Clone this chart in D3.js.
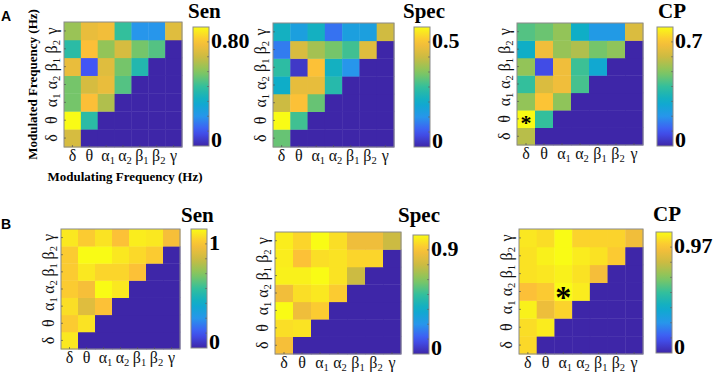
<!DOCTYPE html>
<html><head><meta charset="utf-8">
<script src="https://cdn.jsdelivr.net/npm/d3@7"></script>
<style>body{margin:0;background:#fff}svg{display:block}</style>
</head><body>
<svg id="c" width="720" height="378"></svg>
<script>
// Frequency band labels (base, subscript)
const bands = [["δ",""],["θ",""],["α","1"],["α","2"],["β","1"],["β","2"],["γ",""]];

// Triangular matrices: row r (0 = δ bottom ... 6 = γ top), columns δ..(band r)
const senA = [
  [0.62],
  [0.80, 0.38],
  [0.48, 0.70, 0.56],
  [0.48, 0.62, 0.66, 0.44],
  [0.66, 0.10, 0.64, 0.48, 0.36],
  [0.38, 0.70, 0.52, 0.62, 0.48, 0.44],
  [0.53, 0.66, 0.68, 0.40, 0.20, 0.20, 0.64]
];
const specA = [
  [0.29],
  [0.50, 0.26],
  [0.375, 0.44, 0.29],
  [0.19, 0.41, 0.41, 0.23],
  [0.24, 0.025, 0.44, 0.20, 0.125],
  [0.10, 0.39, 0.34, 0.30, 0.26, 0.40],
  [0.20, 0.15, 0.20, 0.09, 0.15, 0.15, 0.38]
];
const cpA = [
  [0.50],
  [0.70, 0.35],
  [0.455, 0.62, 0.45],
  [0.35, 0.55, 0.59, 0.37],
  [0.455, 0.07, 0.59, 0.36, 0.245],
  [0.27, 0.59, 0.46, 0.49, 0.42, 0.45],
  [0.385, 0.41, 0.455, 0.27, 0.19, 0.19, 0.55]
];
const senB = [
  [0.96],
  [0.90, 0.95],
  [0.94, 0.80, 0.88],
  [0.90, 0.86, 1.00, 0.96],
  [0.90, 0.96, 0.92, 0.92, 0.88],
  [0.90, 1.00, 1.00, 0.96, 0.93, 0.90],
  [0.96, 0.90, 0.95, 0.88, 0.97, 0.96, 0.86]
];
const specB = [
  [0.774],
  [0.846, 0.855],
  [0.90, 0.756, 0.81],
  [0.765, 0.846, 0.864, 0.81],
  [0.882, 0.882, 0.90, 0.855, 0.675],
  [0.873, 0.792, 0.846, 0.855, 0.828, 0.828],
  [0.873, 0.828, 0.90, 0.846, 0.756, 0.756, 0.675]
];
const cpB = [
  [0.90],
  [0.91, 0.94],
  [0.95, 0.81, 0.89],
  [0.85, 0.87, 0.97, 0.94],
  [0.92, 0.93, 0.95, 0.92, 0.83],
  [0.92, 0.95, 0.97, 0.94, 0.92, 0.87],
  [0.93, 0.91, 0.97, 0.89, 0.89, 0.89, 0.82]
];

const titles = ["Sen","Spec","CP","Sen","Spec","CP"];
const matrices = [senA, specA, cpA, senB, specB, cpB];
const cbMax = [0.80, 0.5, 0.7, 1, 0.9, 0.97];
const cbTopLabels = ["0.80","0.5","0.7","1","0.9","0.97"];
// significant cell (col, row) per panel, or null
const starCells = [null, null, [0,1], null, null, [2,3]];

// layout (pixel boxes)
const hmBoxes = [[64,22,182,147],[273,23,394,147],[517,23,643,145],[61,229,180,349],[275,232,401,354],[519,229,643,354]];
const cbBoxes = [[193,27,209,146],[414,27,430,147],[657,27,673,146],[191,229,207,348],[413,235,429,354],[656,232,672,353]];
const titlePos = [[188,18],[403,18],[658,18],[181,222],[398,222],[653,221]];
const starSize = [0,0,22,0,0,32];

// MATLAB parula key colours
const parula = ["#3e26a8","#4255f5","#2796eb","#0cacca","#33bf9c","#85c65e","#ccbb42","#fcbf38","#f9fb15"];
const parulaScale = d3.scaleLinear().domain(d3.range(parula.length).map(i=>i/(parula.length-1))).range(parula).interpolate(d3.interpolateRgb).clamp(true);

const svg = d3.select("#c");
const defs = svg.append("defs");
const grad = defs.append("linearGradient").attr("id","parula").attr("x1",0).attr("y1",1).attr("x2",0).attr("y2",0);
d3.range(0,1.0001,0.05).forEach(t=>grad.append("stop").attr("offset",t).attr("stop-color",parulaScale(t)));

const serif = "'Liberation Serif','Times New Roman',serif";

function bandText(sel, b, fs){
  sel.append("tspan").text(b[0]);
  if(b[1]) sel.append("tspan").attr("font-size", fs*0.66).attr("dy", fs*0.2).text(b[1]);
}

matrices.forEach((mat, p) => {
  const [x0,y0,x1,y1] = hmBoxes[p];
  const g = svg.append("g");
  const xs = d3.scaleBand().domain(d3.range(7)).range([x0,x1]);
  const ys = d3.scaleBand().domain(d3.range(7)).range([y1,y0]);
  const color = v => parulaScale(v / cbMax[p]);
  const cells = [];
  for(let r=0;r<7;r++) for(let c=0;c<7;c++) cells.push({r,c,v: c<=r ? mat[r][c] : 0});
  g.selectAll("rect.cell").data(cells).join("rect")
    .attr("x", d=>xs(d.c)).attr("y", d=>ys(d.r))
    .attr("width", xs.bandwidth()+0.4).attr("height", ys.bandwidth()+0.4)
    .attr("fill", d=>color(d.v));
  // box
  g.append("rect").attr("x",x0).attr("y",y0).attr("width",x1-x0).attr("height",y1-y0)
    .attr("fill","none").attr("stroke","#8a8a8a").attr("stroke-width",1);
  // tick marks
  d3.range(7).forEach(i=>{
    const cx = xs(i)+xs.bandwidth()/2, cy = ys(i)+ys.bandwidth()/2;
    g.append("line").attr("x1",cx).attr("x2",cx).attr("y1",y1).attr("y2",y1-2).attr("stroke","#555").attr("stroke-width",0.7);
    g.append("line").attr("x1",x0).attr("x2",x0+2).attr("y1",cy).attr("y2",cy).attr("stroke","#555").attr("stroke-width",0.7);
  });
  // x tick labels
  bands.forEach((b,i)=>{
    const t = g.append("text").attr("x", xs(i)+xs.bandwidth()/2 + (b[1]?2:0)).attr("y", y1+14)
      .attr("text-anchor","middle").attr("font-family",serif).attr("font-size",16).attr("fill","#111");
    bandText(t,b,16);
  });
  // y tick labels (rotated)
  bands.forEach((b,i)=>{
    const cy = ys(i)+ys.bandwidth()/2 - (b[1]?2:0);
    const t = g.append("text").attr("transform",`translate(${x0-7},${cy}) rotate(-90)`)
      .attr("text-anchor","middle").attr("font-family",serif).attr("font-size",16).attr("fill","#111");
    bandText(t,b,16);
  });
  // star
  if(starCells[p]){
    const [sc,sr] = starCells[p];
    const fs = starSize[p];
    g.append("text").attr("x", xs(sc)+xs.bandwidth()/2).attr("y", ys(sr)+ys.bandwidth()/2 + fs*0.52)
      .attr("text-anchor","middle").attr("font-family",serif).attr("font-weight","bold").attr("font-size",fs).attr("fill","#000").text("*");
  }
  // colorbar
  const [cx0,cy0,cx1,cy1] = cbBoxes[p];
  const cs = d3.scaleLinear().domain([0,cbMax[p]]).range([cy1,cy0]);
  g.append("rect").attr("x",cx0).attr("y",cy0).attr("width",cx1-cx0).attr("height",cy1-cy0)
    .attr("fill","url(#parula)").attr("stroke","#8a8a8a").attr("stroke-width",1);
  d3.range(1,8).forEach(k=>{
    const ty = cs(cbMax[p]*k/8);
    g.append("line").attr("x1",cx1).attr("x2",cx1-2).attr("y1",ty).attr("y2",ty).attr("stroke","#666").attr("stroke-width",0.7);
  });
  g.append("text").attr("x",cx1+2).attr("y",cs(cbMax[p])+21).attr("font-family",serif).attr("font-weight","bold")
    .attr("font-size",22).attr("fill","#000").text(cbTopLabels[p]);
  g.append("text").attr("x",cx1+2).attr("y",cs(0)+1).attr("font-family",serif).attr("font-weight","bold")
    .attr("font-size",22).attr("fill","#000").text("0");
  // title
  g.append("text").attr("x",titlePos[p][0]).attr("y",titlePos[p][1]).attr("font-family",serif).attr("font-weight","bold")
    .attr("font-size",21).attr("fill","#000").text(titles[p]);
});

// axis titles (panel A Sen only)
svg.append("text").attr("x",(hmBoxes[0][0]+hmBoxes[0][2])/2+2).attr("y",181).attr("text-anchor","middle")
  .attr("font-family",serif).attr("font-weight","bold").attr("font-size",13).text("Modulating Frequency (Hz)");
svg.append("text").attr("transform",`translate(37,${(hmBoxes[0][1]+hmBoxes[0][3])/2}) rotate(-90)`).attr("text-anchor","middle")
  .attr("font-family",serif).attr("font-weight","bold").attr("font-size",13).text("Modulated Frequency (Hz)");

// panel letters
svg.append("text").attr("x",1).attr("y",21).attr("font-family","'Liberation Sans',Arial,sans-serif").attr("font-weight","bold").attr("font-size",14).text("A");
svg.append("text").attr("x",1).attr("y",229).attr("font-family","'Liberation Sans',Arial,sans-serif").attr("font-weight","bold").attr("font-size",14).text("B");
</script>
</body></html>
